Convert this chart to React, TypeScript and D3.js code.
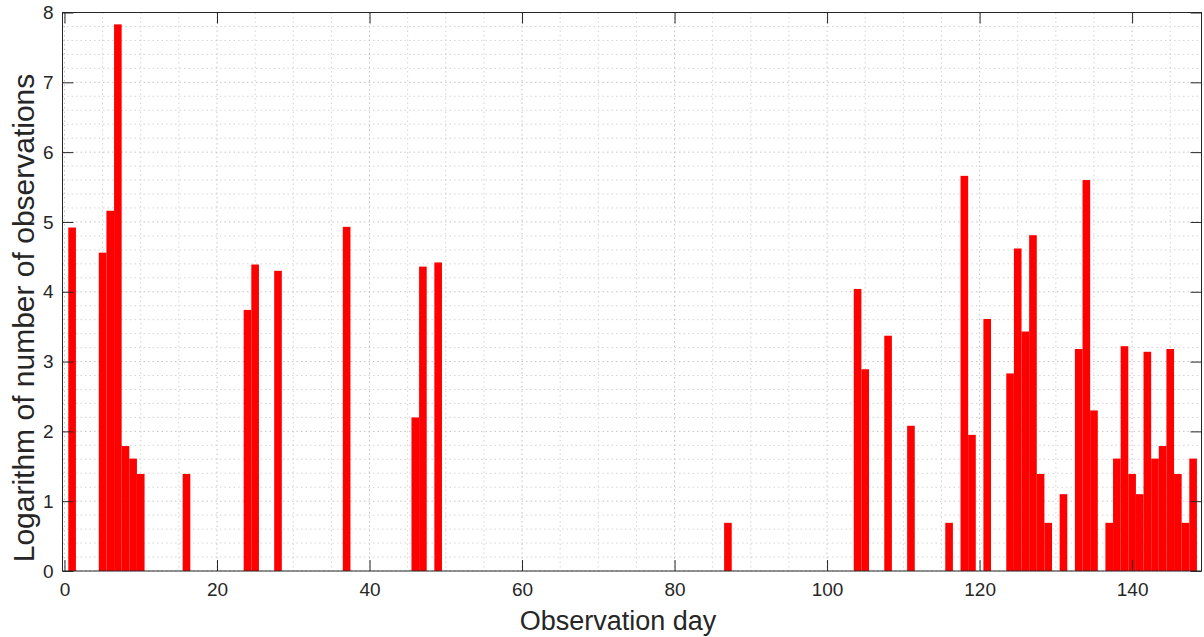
import React, { useRef, useEffect } from 'react';
import * as d3 from 'd3';

// observation days and log(count)
const days: number[] = [
  1, 5, 6, 7, 8, 9, 10, 16, 24, 25, 28, 37, 46, 47, 49, 87,
  104, 105, 108, 111, 116, 118, 119, 121, 124, 125, 126, 127, 128, 129,
  131, 133, 134, 135, 137, 138, 139, 140, 141, 142, 143, 144, 145, 146, 147, 148,
];
const logCounts: number[] = [
  4.92, 4.56, 5.16, 7.83, 1.79, 1.61, 1.39, 1.39, 3.74, 4.39, 4.30, 4.93, 2.20, 4.36, 4.42, 0.69,
  4.04, 2.89, 3.37, 2.08, 0.69, 5.66, 1.95, 3.61, 2.83, 4.62, 3.43, 4.81, 1.39, 0.69,
  1.10, 3.18, 5.60, 2.30, 0.69, 1.61, 3.22, 1.39, 1.10, 3.14, 1.61, 1.79, 3.18, 1.39, 0.69, 1.61,
];
const xTicks: number[] = [0, 20, 40, 60, 80, 100, 120, 140];
const yTicks: number[] = [0, 1, 2, 3, 4, 5, 6, 7, 8];

const W = 1204;
const H = 637;

const App = () => {
  const ref = useRef<SVGGElement | null>(null);

  useEffect(() => {
    document.body.style.margin = '0';
    const g = d3.select(ref.current);
    g.selectAll('*').remove();

    const margin = { top: 12.5, right: 2.5, bottom: 66, left: 62.5 };
    const innerW = W - margin.left - margin.right;
    const innerH = H - margin.top - margin.bottom;
    const axisColor = '#262626';
    const font = 'Liberation Sans, Arial, Helvetica, sans-serif';

    const x = d3.scaleLinear().domain([-0.26, 149.1]).range([0, innerW]);
    const y = d3.scaleLinear().domain([0, 8]).range([innerH, 0]);

    g.attr('transform', `translate(${margin.left}, ${margin.top})`);

    // minor grid
    const xMinor = d3.range(0, 150, 5).filter(v => v % 20 !== 0);
    const yMinor = d3.range(0, 8.01, 0.2).filter(v => Math.abs(v - Math.round(v)) > 1e-6);
    const grid = g.append('g');
    grid.selectAll('.xm').data(xMinor).enter().append('line')
      .attr('x1', d => x(d)).attr('x2', d => x(d)).attr('y1', 0).attr('y2', innerH)
      .attr('stroke', '#d4d4d4').attr('stroke-dasharray', '1.5,3');
    grid.selectAll('.ym').data(yMinor).enter().append('line')
      .attr('y1', d => y(d)).attr('y2', d => y(d)).attr('x1', 0).attr('x2', innerW)
      .attr('stroke', '#d4d4d4').attr('stroke-dasharray', '1.5,3');
    grid.selectAll('.xM').data(xTicks).enter().append('line')
      .attr('x1', d => x(d)).attr('x2', d => x(d)).attr('y1', 0).attr('y2', innerH)
      .attr('stroke', '#c4c4c4').attr('stroke-dasharray', '1.5,3');
    grid.selectAll('.yM').data(yTicks).enter().append('line')
      .attr('y1', d => y(d)).attr('y2', d => y(d)).attr('x1', 0).attr('x2', innerW)
      .attr('stroke', '#c4c4c4').attr('stroke-dasharray', '1.5,3');

    // bars, width 1 day centred on each day
    const data = days.map((d, i) => ({ day: d, value: logCounts[i] }));
    g.selectAll('rect.bar').data(data).enter().append('rect')
      .attr('class', 'bar')
      .attr('x', d => x(d.day - 0.5))
      .attr('width', d => x(d.day + 0.5) - x(d.day - 0.5))
      .attr('y', d => y(d.value))
      .attr('height', d => y(0) - y(d.value))
      .attr('fill', '#ff0000');

    // axes with inward ticks on all four sides
    const tl = 11;
    const bottom = g.append('g').attr('transform', `translate(0, ${innerH})`)
      .call(d3.axisBottom(x).tickValues(xTicks).tickSize(-tl).tickPadding(12));
    const top = g.append('g')
      .call(d3.axisTop(x).tickValues(xTicks).tickSize(-tl).tickFormat(() => ''));
    const left = g.append('g')
      .call(d3.axisLeft(y).tickValues(yTicks).tickSize(-tl).tickPadding(9));
    const right = g.append('g').attr('transform', `translate(${innerW}, 0)`)
      .call(d3.axisRight(y).tickValues(yTicks).tickSize(-tl).tickFormat(() => ''));

    [bottom, top, left, right].forEach(a => {
      a.select('.domain').remove();
      a.selectAll('line').attr('stroke', axisColor);
      a.selectAll('text').attr('fill', axisColor).style('font-family', font).style('font-size', '19px');
    });
    bottom.selectAll('text').attr('dy', '0.71em');

    g.append('rect')
      .attr('width', innerW).attr('height', innerH)
      .attr('fill', 'none').attr('stroke', axisColor).attr('stroke-width', 1);

    g.append('text')
      .attr('x', 618 - margin.left).attr('y', H - margin.top - 7)
      .attr('text-anchor', 'middle').attr('fill', axisColor)
      .style('font-family', font).style('font-size', '27px')
      .text('Observation day');

    g.append('text')
      .attr('transform', `translate(${34 - margin.left}, ${318 - margin.top}) rotate(-90)`)
      .attr('text-anchor', 'middle').attr('fill', axisColor)
      .style('font-family', font).style('font-size', '30px')
      .text('Logarithm of number of observations');
  }, []);

  return (
    <svg width={W} height={H} style={{ display: 'block' }}>
      <rect width={W} height={H} fill="#ffffff" />
      <g ref={ref} />
    </svg>
  );
};

export default App;
